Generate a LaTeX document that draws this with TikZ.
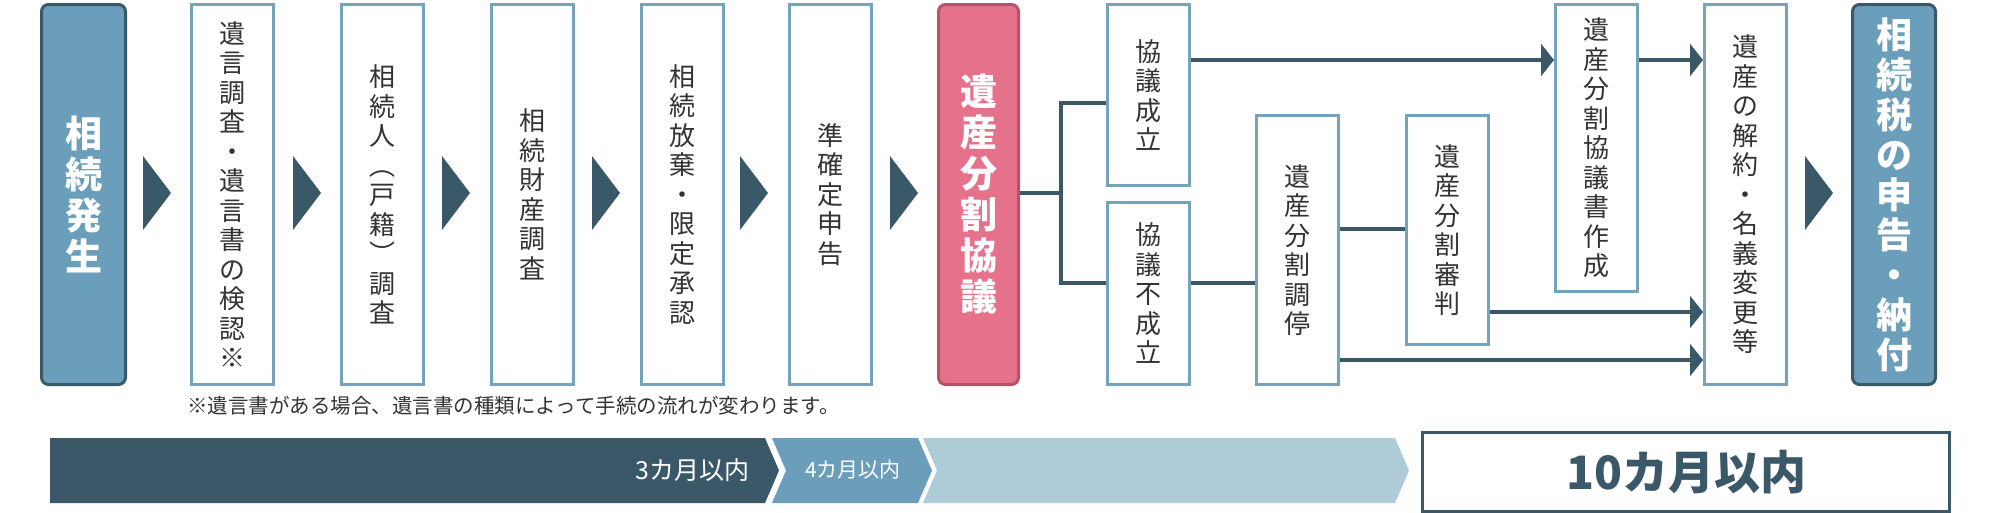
\documentclass[tikz,border=0pt]{standalone}
\usepackage{fontspec}
\setmainfont{Noto Sans CJK JP}
\usetikzlibrary{arrows.meta}
\definecolor{steel}{HTML}{6A9EBA}
\definecolor{dk}{HTML}{3B5868}
\definecolor{pk}{HTML}{E5718B}
\definecolor{pkb}{HTML}{B5536A}
\definecolor{lt}{HTML}{AECBD8}
\definecolor{bb}{HTML}{74A3BC}
\definecolor{tx}{HTML}{333333}
\begin{document}
\begin{tikzpicture}[x=1pt,y=-1pt,
  box/.style={draw=bb,line width=3pt,fill=white,anchor=north west,minimum width=82pt,inner sep=0pt,align=center,text=tx,font=\fontsize{26}{29.5}\selectfont},
  big/.style={line width=3pt,rounded corners=7pt,anchor=north west,minimum width=84pt,minimum height=380pt,inner sep=0pt,align=center,text=white,font=\fontsize{37}{41}\selectfont\bfseries},
  conn/.style={draw=dk,line width=4pt},
  arr/.style={conn,-{Triangle[length=13pt,width=32pt]}},
  chev/.style={fill=dk}]
\useasboundingbox (0,0) rectangle (2000,512);
\fill[white] (0,0) rectangle (2000,512);
% big boxes
\node[big,draw=dk,fill=steel] (start) at (40,3) {相\\続\\発\\生};
\node[big,draw=pkb,fill=pk,minimum width=80pt] (kyogi) at (937,3) {遺\\産\\分\\割\\協\\議};
\node[big,draw=dk,fill=steel,minimum width=83pt,font=\fontsize{36}{40}\selectfont\bfseries] (final) at (1851,3) {相\\続\\税\\の\\申\\告\\・\\納\\付};
% step boxes
\node[box,minimum height=380pt] (b1) at (190,3) {遺\\言\\調\\査\\・\\遺\\言\\書\\の\\検\\認\\※};
\node[box,minimum height=380pt] (b2) at (340,3) {相\\続\\人\\︵\\戸\\籍\\︶\\調\\査};
\node[box,minimum height=380pt] (b3) at (490,3) {相\\続\\財\\産\\調\\査};
\node[box,minimum height=380pt] (b4) at (640,3) {相\\続\\放\\棄\\・\\限\\定\\承\\認};
\node[box,minimum height=380pt] (b5) at (788,3) {準\\確\\定\\申\\告};
% chevrons
\foreach \x in {143,293,442,592,740,890,1805}
  \fill[chev] (\x,156) -- (\x+28,193) -- (\x,230) -- cycle;
% right part
\node[box,minimum height=181pt] (ok) at (1106,3) {協\\議\\成\\立};
\node[box,minimum height=182pt] (ng) at (1106,201) {協\\議\\不\\成\\立};
\node[box,minimum height=269pt] (cho) at (1255,114) {遺\\産\\分\\割\\調\\停};
\node[box,minimum height=229pt] (shin) at (1405,114) {遺\\産\\分\\割\\審\\判};
\node[box,minimum height=287pt] (sho) at (1554,3) {遺\\産\\分\\割\\協\\議\\書\\作\\成};
\node[box,minimum height=380pt] (kai) at (1703,3) {遺\\産\\の\\解\\約\\・\\名\\義\\変\\更\\等};
\coordinate (j) at (1061,193);
\draw[conn] (kyogi.east |- j) -- (j);
\draw[conn] (ok.west |- 0,103) -| (1061,283) -- (ng.west |- 0,283);
\draw[conn] (ng.east |- 0,283) -- (cho.west |- 0,283);
\draw[conn] (cho.east |- 0,229) -- (shin.west |- 0,229);
\draw[arr] (ok.east |- 0,60) -- (sho.west |- 0,60);
\draw[arr] (sho.east |- 0,60) -- (kai.west |- 0,60);
\draw[arr] (shin.east |- 0,312) -- (kai.west |- 0,312);
\draw[arr] (cho.east |- 0,360) -- (kai.west |- 0,360);
% note
\node[anchor=west,inner sep=0pt,text=tx,font=\fontsize{20.5}{22}\selectfont] (note) at (187,406) {※遺言書がある場合、遺言書の種類によって手続の流れが変わります。};
% bottom bar
\fill[dk] (50,438) -- (765,438) -- (779,470.5) -- (765,503) -- (50,503) -- cycle;
\fill[steel] (772,438) -- (918,438) -- (932,470.5) -- (918,503) -- (772,503) -- (786,470.5) -- cycle;
\fill[lt] (923,438) -- (1395,438) -- (1409,470.5) -- (1395,503) -- (923,503) -- (937,470.5) -- cycle;
\node[anchor=east,text=white,inner sep=0pt,font=\fontsize{25}{27}\selectfont] (m3) at (750,470) {3カ月以内};
\node[text=white,inner sep=0pt,font=\fontsize{21}{23}\selectfont] (m4) at (853,470) {4カ月以内};
\node[draw=dk,line width=3pt,anchor=north west,minimum width=527pt,minimum height=79pt,inner sep=0pt,text=dk,font=\fontsize{46}{50}\selectfont\bfseries] (m10) at (1421,431) {10カ月以内};
\end{tikzpicture}
\end{document}
